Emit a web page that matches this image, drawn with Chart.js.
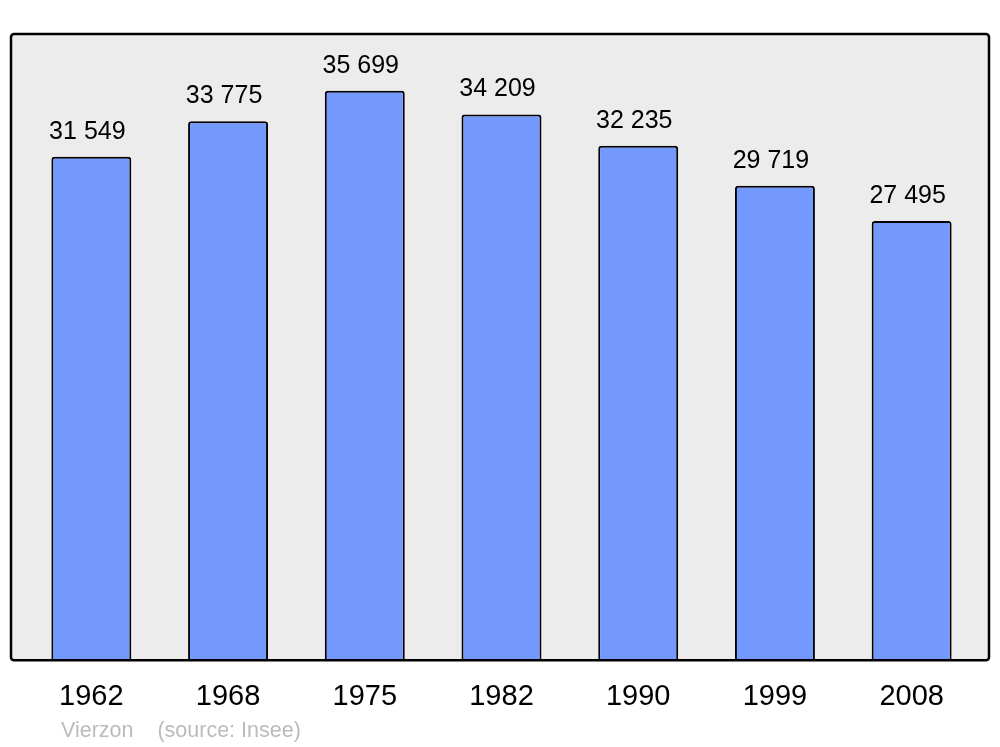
<!DOCTYPE html>
<html>
<head>
<meta charset="utf-8">
<script src="https://cdn.jsdelivr.net/npm/chart.js@4/dist/chart.umd.min.js"></script>
<style>
  html, body { margin: 0; padding: 0; background: #ffffff; }
  #wrap { position: relative; width: 1000px; height: 747px; }
  #source {
    position: absolute; left: 61px; top: 718px;
    font-family: "Liberation Sans", Arial, sans-serif; font-size: 21.5px; color: #bbbbbb;
    white-space: pre;
  }
</style>
</head>
<body>
<div id="wrap">
  <canvas id="pop" width="1000" height="747"></canvas>
  <div id="source">Vierzon    (source: Insee)</div>
</div>
<script>
  "use strict";

  // données population Vierzon
  var YEARS = ["1962", "1968", "1975", "1982", "1990", "1999", "2008"];
  var POPULATION = [31549, 33775, 35699, 34209, 32235, 29719, 27495];
  var Y_MIN = -130;
  var Y_MAX = 39280;

  var FONT = "'Liberation Sans', Arial, sans-serif";
  var BAR_FILL = "#7399ff";
  var INK = "#000000";
  var PANEL = "#ececec";

  function fmt(v) {
    return String(v).replace(/\B(?=(\d{3})+(?!\d))/g, " ");
  }

  function framePath(chart) {
    var a = chart.chartArea, ctx = chart.ctx;
    var x = a.left - 12, y = a.top, w = (a.right + 9) - x, h = (a.bottom + 1) - y;
    ctx.beginPath();
    ctx.roundRect(x, y, w, h, 3);
  }

  // cadre gris arrondi derrière les barres
  var framePlugin = {
    id: "frame",
    beforeDatasetsDraw: function (chart) {
      var ctx = chart.ctx;
      ctx.save();
      framePath(chart);
      ctx.fillStyle = PANEL;
      ctx.fill();
      ctx.restore();
    },
    afterDatasetsDraw: function (chart) {
      var ctx = chart.ctx;
      ctx.save();
      framePath(chart);
      ctx.lineWidth = 2.5;
      ctx.strokeStyle = INK;
      ctx.stroke();
      ctx.restore();
    }
  };

  // valeurs au-dessus des barres
  var valuePlugin = {
    id: "values",
    afterDatasetsDraw: function (chart) {
      var ctx = chart.ctx;
      var meta = chart.getDatasetMeta(0);
      ctx.save();
      ctx.font = "25px " + FONT;
      ctx.fillStyle = INK;
      ctx.textAlign = "center";
      ctx.textBaseline = "middle";
      meta.data.forEach(function (bar, i) {
        ctx.fillText(fmt(POPULATION[i]), bar.x - 4, bar.y - 25);
      });
      ctx.restore();
    }
  };

  new Chart(document.getElementById("pop"), {
    type: "bar",
    data: {
      labels: YEARS,
      datasets: [{
        data: POPULATION,
        base: Y_MIN,
        backgroundColor: BAR_FILL,
        borderColor: INK,
        borderWidth: 2,
        borderSkipped: "bottom",
        borderRadius: { topLeft: 3, topRight: 3, bottomLeft: 0, bottomRight: 0 },
        barPercentage: 0.585,
        categoryPercentage: 1
      }]
    },
    options: {
      responsive: false,
      animation: false,
      devicePixelRatio: 1,
      layout: { padding: { left: 23, right: 20, top: 34, bottom: 13 } },
      plugins: { legend: { display: false }, tooltip: { enabled: false } },
      scales: {
        x: {
          grid: { display: false, drawTicks: false },
          border: { display: false },
          ticks: { color: INK, font: { family: FONT, size: 29 }, padding: 20 }
        },
        y: { display: false, min: Y_MIN, max: Y_MAX }
      }
    },
    plugins: [framePlugin, valuePlugin]
  });
</script>
</body>
</html>
